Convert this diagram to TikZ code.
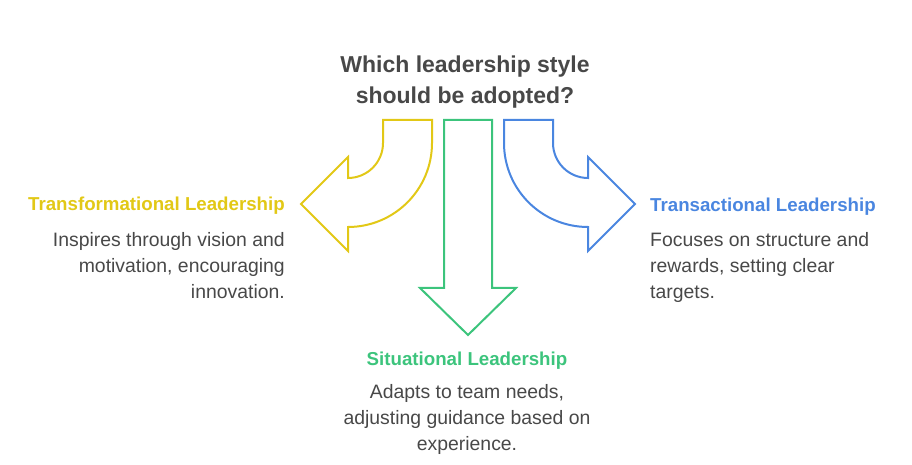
\documentclass[tikz,border=0pt]{standalone}
\usepackage{fontspec}
\setmainfont{Liberation Sans}
\definecolor{ylw}{RGB}{226,200,22}
\definecolor{grn}{RGB}{60,196,124}
\definecolor{blu}{RGB}{74,134,224}
\definecolor{txt}{RGB}{72,72,72}
\tikzset{
  shapeline/.style={line width=2pt, line join=miter},
  title/.style={font=\fontsize{23}{31}\selectfont\bfseries, text=txt, align=center, inner sep=0pt},
  head/.style={font=\fontsize{18.7}{26.5}\selectfont\bfseries, inner sep=0pt},
  desc/.style={font=\fontsize{19.4}{26}\selectfont, text=txt, inner sep=0pt},
}
\begin{document}
\begin{tikzpicture}[x=1pt,y=1pt]
\useasboundingbox (0,0) rectangle (912,465);
% yellow curved arrow (left)
\draw[shapeline, ylw] (383,345) -- (432,345) -- (432,322) arc[start angle=0, end angle=-90, radius=84]
  -- (348,214) -- (301,261) -- (348,308) -- (348,287) arc[start angle=-90, end angle=0, radius=35] -- cycle;
% green straight arrow (down)
\draw[shapeline, grn] (444,345) -- (492,345) -- (492,177) -- (516,177) -- (468,130) -- (420,177) -- (444,177) -- cycle;
% blue curved arrow (right)
\draw[shapeline, blu] (553,345) -- (504,345) -- (504,322) arc[start angle=180, end angle=270, radius=84]
  -- (588,214) -- (635,261) -- (588,308) -- (588,287) arc[start angle=270, end angle=180, radius=35] -- cycle;
% title
\node[title, anchor=base] (q) at (465,361) {Which leadership style\\should be adopted?};
% left
\node[head, text=ylw, anchor=base east] (lh) at (285,254) {Transformational Leadership};
\node[desc, align=right, anchor=base east] (ld) at (285,166) {Inspires through vision and\\motivation, encouraging\\innovation.};
% right
\node[head, text=blu, anchor=base west] (rh) at (650,253) {Transactional Leadership};
\node[desc, align=left, anchor=base west] (rd) at (650,166) {Focuses on structure and\\rewards, setting clear\\targets.};
% bottom
\node[head, text=grn, anchor=base] (bh) at (467,99) {Situational Leadership};
\node[desc, align=center, anchor=base] (bd) at (467,14) {Adapts to team needs,\\adjusting guidance based on\\experience.};
\end{tikzpicture}
\end{document}
